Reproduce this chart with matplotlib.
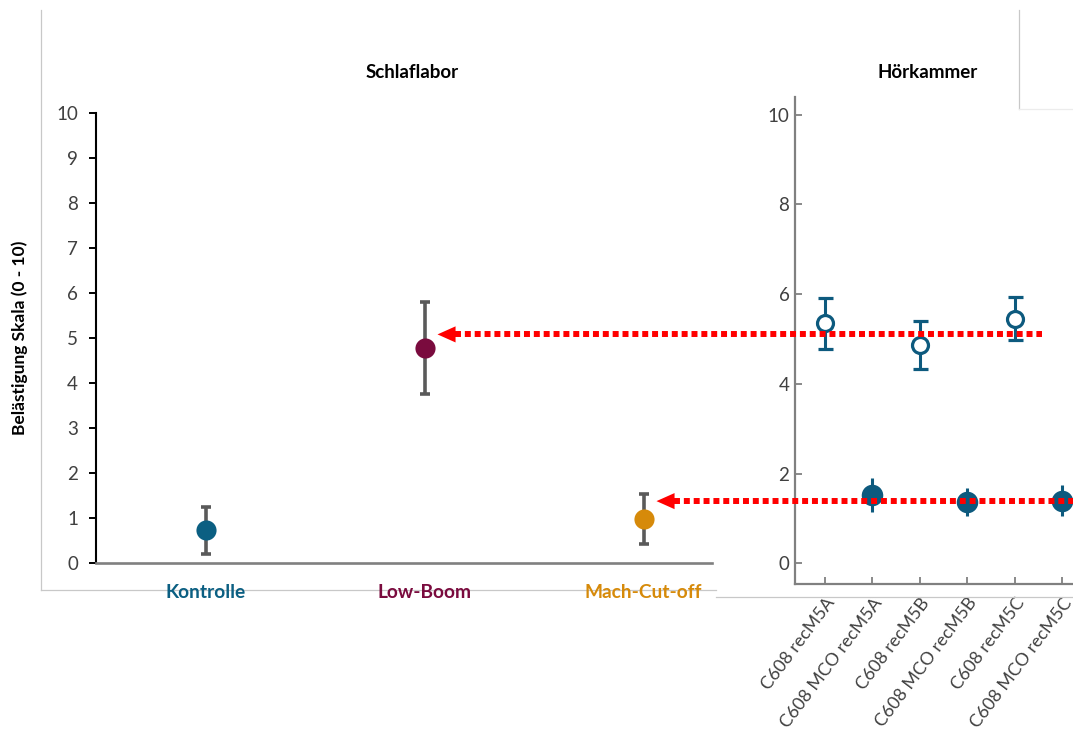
import matplotlib
matplotlib.use("Agg")
import matplotlib.pyplot as plt
from matplotlib.lines import Line2D

plt.rcParams['font.family'] = ['Lato', 'DejaVu Sans']

# --- Schlaflabor (sleep lab) ---
lab_categories = ["Kontrolle", "Low-Boom", "Mach-Cut-off"]
lab_means = [0.73, 4.78, 0.98]
lab_errors = [0.52, 1.03, 0.56]
lab_colors = ["#0b5f82", "#7a0b3e", "#d68a0a"]

# --- Hörkammer (listening chamber) ---
chamber_labels = ["C608 recM5A", "C608 MCO recM5A", "C608 recM5B",
                  "C608 MCO recM5B", "C608 recM5C", "C608 MCO recM5C"]
chamber_means = [5.35, 1.52, 4.87, 1.36, 5.45, 1.40]
chamber_errors = [0.57, 0.38, 0.53, 0.31, 0.48, 0.35]
chamber_filled = [False, True, False, True, False, True]

# Reference levels carried over from the chamber to the lab results
arrow_levels = [5.08, 1.38]
arrow_targets = [1, 2]          # index of lab category each arrow points at

W, H = 1073, 740
fig = plt.figure(figsize=(W / 100, H / 100), dpi=100)
fig.patch.set_facecolor("white")

def px_rect(x0, y0, x1, y1):
    return [x0 / W, 1 - y1 / H, (x1 - x0) / W, (y1 - y0) / H]

tick_color = "#404040"
teal = "#0d5a7e"

# ---------- right panel ----------
axr = fig.add_axes(px_rect(795, 97, 1073, 584))
axr.set_zorder(1)
axr.set_facecolor("none")
xr = list(range(len(chamber_labels)))
for i in xr:
    if chamber_filled[i]:
        axr.errorbar(i, chamber_means[i], yerr=chamber_errors[i], fmt="o",
                     ms=15.5, mfc=teal, mec=teal, mew=0, ecolor=teal,
                     elinewidth=2.2, capsize=5.4, capthick=2.2, zorder=3)
    else:
        axr.errorbar(i, chamber_means[i], yerr=chamber_errors[i], fmt="o",
                     ms=11.5, mfc="white", mec=teal, mew=2.3, ecolor=teal,
                     elinewidth=2.2, capsize=5.4, capthick=2.2, zorder=3)
axr.set_xlim(-0.632, 5.227)
axr.set_ylim(-0.46, 10.39)
axr.set_yticks([0, 2, 4, 6, 8, 10])
axr.set_xticks(xr)
axr.set_xticklabels(chamber_labels, rotation=53, ha="right", va="top",
                    rotation_mode="anchor")
axr.tick_params(axis="both", direction="in", length=5, width=1.3,
                color="#808080", labelcolor=tick_color)
axr.tick_params(axis="x", pad=8, labelsize=12.8)
axr.tick_params(axis="y", pad=4, labelsize=13.5)
for s in ("top", "right"):
    axr.spines[s].set_visible(False)
for s in ("left", "bottom"):
    axr.spines[s].set_color("#808080")
    axr.spines[s].set_linewidth(1.6)

# ---------- left panel ----------
axl = fig.add_axes(px_rect(96, 112.7, 712, 563.3))
axl.set_zorder(2)
axl.set_facecolor("none")
xl = [i + 0.5 for i in range(len(lab_categories))]
for i, x in enumerate(xl):
    axl.errorbar(x, lab_means[i], yerr=lab_errors[i], fmt="none",
                 ecolor="#5a5a5a", elinewidth=2.6, capsize=3.6, capthick=2.6,
                 zorder=3)
    axl.plot(x, lab_means[i], "o", ms=14.5, color=lab_colors[i], mew=0,
             zorder=4)
axl.set_xlim(0, 616 / 219)
axl.set_ylim(0, 10)
axl.set_yticks(range(0, 11))
axl.set_xticks(xl)
axl.set_xticklabels(lab_categories, fontweight="bold", fontsize=13.8)
for lab, c in zip(axl.get_xticklabels(), lab_colors):
    lab.set_color(c)
axl.tick_params(axis="x", length=0, pad=15)
axl.tick_params(axis="y", direction="out", length=5, width=1.4,
                color="black", labelcolor=tick_color, labelsize=13.5, pad=8)
for s in ("top", "right"):
    axl.spines[s].set_visible(False)
axl.spines["left"].set_color("black")
axl.spines["left"].set_linewidth(1.5)
axl.spines["bottom"].set_color("#808080")
axl.spines["bottom"].set_linewidth(1.9)
axl.set_ylabel("Belästigung Skala (0 - 10)", fontweight="bold", fontsize=12.5,
               labelpad=20)

# red dotted arrows from the chamber level to the lab marker
tails = [(1042 - 96) / 219, (1073 - 96) / 219]
for lvl, tgt, tail in zip(arrow_levels, arrow_targets, tails):
    tip = xl[tgt] + 13 / 219
    head_end = tip + 17 / 219
    axl.add_line(Line2D([head_end, tail], [lvl, lvl], color="#ff0000",
                        lw=4.3, dashes=(1.0, 0.65), solid_capstyle="butt",
                        dash_capstyle="butt", clip_on=False, zorder=6))
    axl.annotate("", xy=(tip, lvl), xytext=(head_end + 1 / 219, lvl),
                 arrowprops=dict(arrowstyle="-|>,head_length=13,head_width=5.8",
                                 mutation_scale=1, color="#ff0000", lw=0,
                                 shrinkA=0, shrinkB=0),
                 annotation_clip=False, zorder=6)

# panel titles
fig.text(412 / W, 1 - 73 / H, "Schlaflabor", ha="center", va="center",
         fontweight="bold", fontsize=13.5)
fig.text(928 / W, 1 - 73 / H, "Hörkammer", ha="center", va="center",
         fontweight="bold", fontsize=13.5)

# thin frame lines around the panels
frame = "#c8c8c8"
def fline(xs, ys, c=frame):
    fig.add_artist(Line2D([x / W for x in xs], [1 - y / H for y in ys],
                          color=c, lw=0.9))
fline([41, 41], [10, 590])
fline([41, 716], [590, 590])
fline([716, 1073], [597, 597])
fline([1019, 1019], [10, 109])
fline([1019, 1073], [109, 109], c="#ececec")

fig.savefig("out.png", dpi=100, facecolor="white")
